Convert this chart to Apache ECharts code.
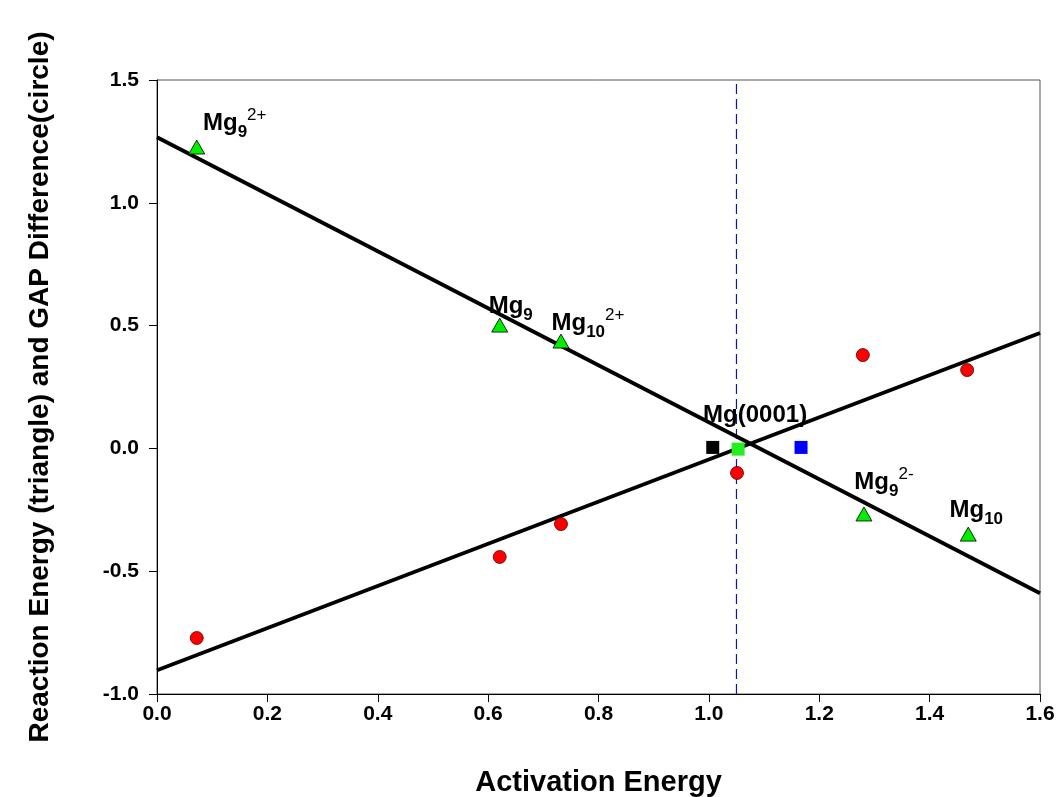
<!DOCTYPE html>
<html><head><meta charset="utf-8">
<script src="https://cdn.jsdelivr.net/npm/echarts@6/dist/echarts.min.js"></script>
<style>html,body{margin:0;padding:0;background:#fff}#c{width:1058px;height:797px}</style>
</head><body><div id="c"></div>
<script>
// Reaction energy (triangles)
const triX = [0.072, 0.621, 0.732, 1.281, 1.470];
const triY = [1.227, 0.502, 0.437, -0.267, -0.349];
const triLabels = ['{m|Mg}{s|9}{p|2+}', '{m|Mg}{s|9}', '{m|Mg}{s|10}{p|2+}', '{m|Mg}{s|9}{p|2-}', '{m|Mg}{s|10}'];
// GAP difference (circles)
const cirX = [0.072, 0.621, 0.732, 1.051, 1.279, 1.468];
const cirY = [-0.772, -0.442, -0.308, -0.100, 0.380, 0.319];
// Mg(0001) squares
const sqX = [1.007, 1.053, 1.167];
const sqY = [0.004, -0.003, 0.004];
const sqColors = ['#000000', '#22ee22', '#0000ff'];
// fitted lines (endpoints)
const fitTriX = [0.0, 1.6];
const fitTriY = [1.267, -0.590];
const fitCirX = [0.0, 1.6];
const fitCirY = [-0.903, 0.470];
// vertical dashed reference
const vlineX = [1.05, 1.05];
const vlineY = [-1.0, 1.5];
const xTicks = [0.0, 0.2, 0.4, 0.6, 0.8, 1.0, 1.2, 1.4, 1.6];
const yTicks = [-1.0, -0.5, 0.0, 0.5, 1.0, 1.5];

const labelOffsets = [[38, 6], [11, 11], [27, 12], [20, -2], [8, 6]];
const F = '"Liberation Sans", Arial, sans-serif';
const rich = {
  m: {fontSize: 24, fontWeight: 'bold', color: '#000', fontFamily: F, lineHeight: 34, verticalAlign: 'middle'},
  s: {fontSize: 17, fontWeight: 'bold', color: '#000', fontFamily: F, verticalAlign: 'bottom', lineHeight: 17},
  p: {fontSize: 17, fontWeight: 'normal', color: '#000', fontFamily: F, verticalAlign: 'top', lineHeight: 17}
};

const zip = (a, b) => a.map((v, i) => [v, b[i]]);
const chart = echarts.init(document.getElementById('c'));
chart.setOption({
  animation: false,
  backgroundColor: '#fff',
  grid: {left: 157, right: 18, top: 80, bottom: 103, show: true, borderColor: '#555', borderWidth: 1,
    containLabel: false, outerBoundsMode: 'none'},
  xAxis: {
    type: 'value', min: 0, max: 1.6, interval: 0.2,
    name: 'Activation Energy', nameLocation: 'middle', nameGap: 74,
    nameTextStyle: {fontSize: 29, fontWeight: 'bold', fontFamily: F, color: '#000'},
    axisLine: {show: true, onZero: false, lineStyle: {color: '#000', width: 1}},
    axisTick: {show: true, inside: false, length: 8, lineStyle: {color: '#000'}},
    axisLabel: {fontSize: 21, fontWeight: 'bold', fontFamily: F, color: '#000', margin: 10,
      formatter: v => v.toFixed(1)},
    splitLine: {show: false}
  },
  yAxis: {
    type: 'value', min: -1.0, max: 1.5, interval: 0.5,
    name: 'Reaction Energy (triangle) and GAP Difference(circle)', nameLocation: 'middle', nameGap: 103,
    nameTextStyle: {fontSize: 28, fontWeight: 'bold', fontFamily: F, color: '#000'},
    axisLine: {show: true, onZero: false, lineStyle: {color: '#000', width: 1}},
    axisTick: {show: true, inside: false, length: 8, lineStyle: {color: '#000'}},
    axisLabel: {fontSize: 21, fontWeight: 'bold', fontFamily: F, color: '#000', margin: 18,
      formatter: v => v.toFixed(1)},
    splitLine: {show: false}
  },
  series: [
    {type: 'line', data: zip(vlineX, vlineY), symbol: 'none', silent: true,
      lineStyle: {color: '#1010b0', width: 1.2, type: [10, 5]}, z: 1},
    {type: 'line', data: zip(fitTriX, fitTriY), symbol: 'none', lineStyle: {color: '#000', width: 3.8}, z: 2},
    {type: 'line', data: zip(fitCirX, fitCirY), symbol: 'none', lineStyle: {color: '#000', width: 3.8}, z: 2},
    {type: 'scatter', symbol: 'triangle', symbolSize: [16, 14], z: 5,
      itemStyle: {color: '#00ee00', borderColor: '#000', borderWidth: 0.8, opacity: 1},
      data: triX.map((x, i) => ({value: [x, triY[i]], label: {
        show: true, position: 'top', offset: labelOffsets[i], formatter: triLabels[i], rich: rich
      }}))},
    {type: 'scatter', symbol: 'circle', symbolSize: 13, z: 5,
      itemStyle: {color: '#ff0000', borderColor: '#550000', borderWidth: 0.8, opacity: 1},
      data: zip(cirX, cirY)},
    {type: 'scatter', symbol: 'rect', symbolSize: 13, z: 6,
      data: sqX.map((x, i) => ({value: [x, sqY[i]], itemStyle: {color: sqColors[i], opacity: 1},
        label: i === 1 ? {show: true, position: 'top', offset: [17, -10], formatter: 'Mg(0001)',
          fontSize: 24, fontWeight: 'bold', fontFamily: F, color: '#000'} : {show: false}}))}
  ]
});
</script></body></html>
